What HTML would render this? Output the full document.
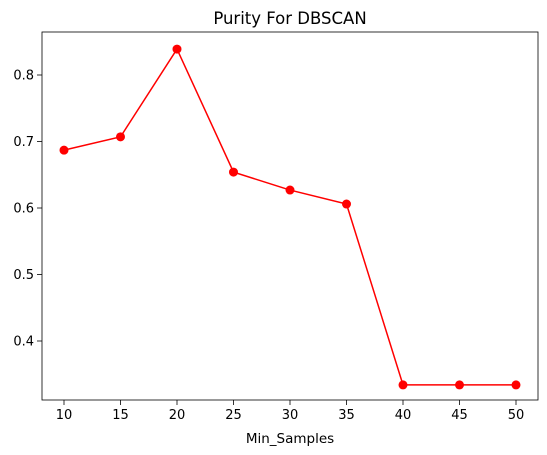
<!DOCTYPE html>
<html><head><meta charset="utf-8"><style>
body{margin:0;background:#fff;}
svg{display:block;font-family:"DejaVu Sans","Liberation Sans",sans-serif;}
</style></head><body>
<svg id="chart" width="547" height="455"></svg>
<script>
const categories=[10,15,20,25,30,35,40,45,50];
const purity=[0.687,0.707,0.839,0.654,0.627,0.606,0.334,0.334,0.334];
const xTicks=[10,15,20,25,30,35,40,45,50];
const yTicks=[0.4,0.5,0.6,0.7,0.8];
const NS="http://www.w3.org/2000/svg";
const svg=document.getElementById('chart');
const L=42,R=538,T=32,B=400;
const xs=v=>64+(v-10)*(516-64)/40;
const ys=v=>75+(0.8-v)*665;
function mk(tag,attrs,parent){const e=document.createElementNS(NS,tag);for(const k in attrs)e.setAttribute(k,attrs[k]);(parent||svg).appendChild(e);return e;}
const frame=mk('rect',{x:L,y:T,width:R-L,height:B-T,fill:'none',stroke:'#000','stroke-width':0.8});


xTicks.forEach(t=>{
  const g=mk('g',{});
  
  
  mk('line',{x1:xs(t),x2:xs(t),y1:B,y2:B+5,stroke:'#000','stroke-width':0.8},g);
  const tx=mk('text',{x:xs(t),y:B+19,'text-anchor':'middle','font-size':13,fill:'#000'},g);tx.textContent=t;
});
yTicks.forEach(t=>{
  const g=mk('g',{});
  
  
  mk('line',{x1:L-5,x2:L,y1:ys(t),y2:ys(t),stroke:'#000','stroke-width':0.8},g);
  const tx=mk('text',{x:L-8,y:ys(t)+4.5,'text-anchor':'end','font-size':13,fill:'#000'},g);tx.textContent=t.toFixed(1);
});
const line=mk('polyline',{points:categories.map((c,i)=>xs(c)+','+ys(purity[i])).join(' '),fill:'none',stroke:'#ff0000','stroke-width':1.5});


categories.forEach((c,i)=>{
  const p=mk('circle',{cx:xs(c),cy:ys(purity[i]),r:4.5,fill:'#ff0000'});
  
  
});
const title=mk('text',{x:(L+R)/2,y:24,'text-anchor':'middle','font-size':16.5,fill:'#000'});
title.textContent='Purity For DBSCAN';


const xl=mk('text',{x:(L+R)/2,y:443,'text-anchor':'middle','font-size':13.5,fill:'#000'});
xl.textContent='Min_Samples';


</script>
</body></html>
